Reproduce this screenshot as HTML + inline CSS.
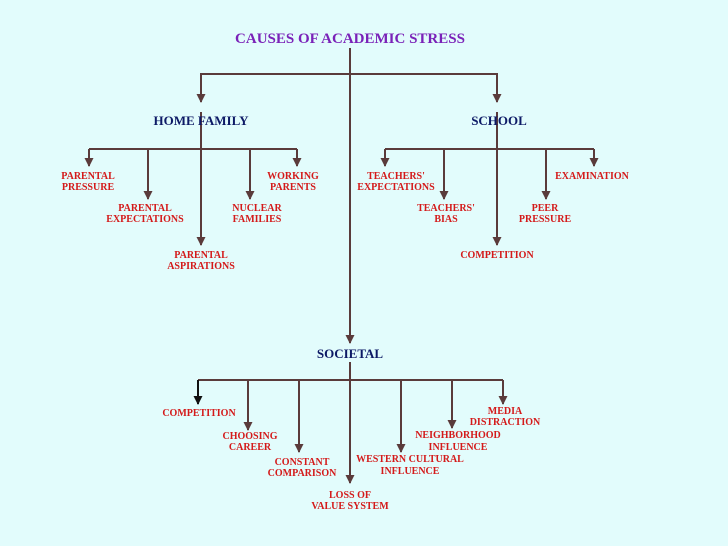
<!DOCTYPE html>
<html><head><meta charset="utf-8"><style>
html,body{margin:0;padding:0;background:#e2fcfc;}
svg{display:block}
text{font-family:"Liberation Serif",serif;font-weight:bold;text-anchor:middle}
.r{fill:#d41a1a;font-size:10px}
.h{fill:#0d1a66;font-size:13px}
</style></head><body>
<svg width="728" height="546" viewBox="0 0 728 546" xmlns="http://www.w3.org/2000/svg">
<defs><marker id="a" markerWidth="8" markerHeight="8" refX="4" refY="6" orient="auto" markerUnits="userSpaceOnUse" viewBox="0 0 8 8"><path d="M0,0 L8,0 L4,7 Z" fill="#5a3b3b" transform="rotate(-90 4 4)"/></marker>
<marker id="d" markerWidth="9" markerHeight="9" refX="4.5" refY="8" markerUnits="userSpaceOnUse"><path d="M0,0 L9,0 L4.5,9 Z" fill="#5a3b3b"/></marker>
<marker id="k" markerWidth="9" markerHeight="9" refX="4.5" refY="8" markerUnits="userSpaceOnUse"><path d="M0,0 L9,0 L4.5,9 Z" fill="#111"/></marker></defs>
<g stroke="#5a3b3b" stroke-width="2" fill="none">
<line x1="350" y1="48" x2="350" y2="343" marker-end="url(#d)"/>
<polyline points="201,102 201,74 497,74 497,102" />
<line x1="201" y1="74" x2="201" y2="102" marker-end="url(#d)"/>
<line x1="497" y1="74" x2="497" y2="102" marker-end="url(#d)"/>
<line x1="201" y1="112" x2="201" y2="245" marker-end="url(#d)"/>
<line x1="89" y1="149" x2="297" y2="149"/>
<line x1="89" y1="149" x2="89" y2="166" marker-end="url(#d)"/>
<line x1="148" y1="149" x2="148" y2="199" marker-end="url(#d)"/>
<line x1="250" y1="149" x2="250" y2="199" marker-end="url(#d)"/>
<line x1="297" y1="149" x2="297" y2="166" marker-end="url(#d)"/>
<line x1="497" y1="112" x2="497" y2="245" marker-end="url(#d)"/>
<line x1="385" y1="149" x2="594" y2="149"/>
<line x1="385" y1="149" x2="385" y2="166" marker-end="url(#d)"/>
<line x1="444" y1="149" x2="444" y2="199" marker-end="url(#d)"/>
<line x1="546" y1="149" x2="546" y2="199" marker-end="url(#d)"/>
<line x1="594" y1="149" x2="594" y2="166" marker-end="url(#d)"/>
<line x1="350" y1="362" x2="350" y2="483" marker-end="url(#d)"/>
<line x1="198" y1="380" x2="503" y2="380"/>
<line x1="248" y1="380" x2="248" y2="430" marker-end="url(#d)"/>
<line x1="299" y1="380" x2="299" y2="452" marker-end="url(#d)"/>
<line x1="401" y1="380" x2="401" y2="452" marker-end="url(#d)"/>
<line x1="452" y1="380" x2="452" y2="428" marker-end="url(#d)"/>
<line x1="503" y1="380" x2="503" y2="404" marker-end="url(#d)"/>
</g>
<line x1="198" y1="380" x2="198" y2="404" stroke="#111" stroke-width="2" marker-end="url(#k)"/>
<text x="350" y="43" style="fill:#7a22b8;font-size:15px">CAUSES OF ACADEMIC STRESS</text>
<text class="h" x="201" y="125">HOME FAMILY</text>
<text class="h" x="499" y="125">SCHOOL</text>
<text class="h" x="350" y="358">SOCIETAL</text>
<g class="r">
<text class="r" x="88" y="179">PARENTAL</text><text class="r" x="88" y="190">PRESSURE</text>
<text class="r" x="145" y="211">PARENTAL</text><text class="r" x="145" y="222">EXPECTATIONS</text>
<text class="r" x="257" y="211">NUCLEAR</text><text class="r" x="257" y="222">FAMILIES</text>
<text class="r" x="293" y="179">WORKING</text><text class="r" x="293" y="190">PARENTS</text>
<text class="r" x="201" y="258">PARENTAL</text><text class="r" x="201" y="269">ASPIRATIONS</text>
<text class="r" x="396" y="179">TEACHERS'</text><text class="r" x="396" y="190">EXPECTATIONS</text>
<text class="r" x="446" y="211">TEACHERS'</text><text class="r" x="446" y="222">BIAS</text>
<text class="r" x="545" y="211">PEER</text><text class="r" x="545" y="222">PRESSURE</text>
<text class="r" x="592" y="179">EXAMINATION</text>
<text class="r" x="497" y="258">COMPETITION</text>
<text class="r" x="199" y="416">COMPETITION</text>
<text class="r" x="250" y="439">CHOOSING</text><text class="r" x="250" y="450">CAREER</text>
<text class="r" x="302" y="465">CONSTANT</text><text class="r" x="302" y="476">COMPARISON</text>
<text class="r" x="350" y="498">LOSS OF</text><text class="r" x="350" y="509">VALUE SYSTEM</text>
<text class="r" x="410" y="462">WESTERN CULTURAL</text><text class="r" x="410" y="474">INFLUENCE</text>
<text class="r" x="458" y="438">NEIGHBORHOOD</text><text class="r" x="458" y="450">INFLUENCE</text>
<text class="r" x="505" y="414">MEDIA</text><text class="r" x="505" y="425">DISTRACTION</text>
</g>
</svg>
</body></html>
